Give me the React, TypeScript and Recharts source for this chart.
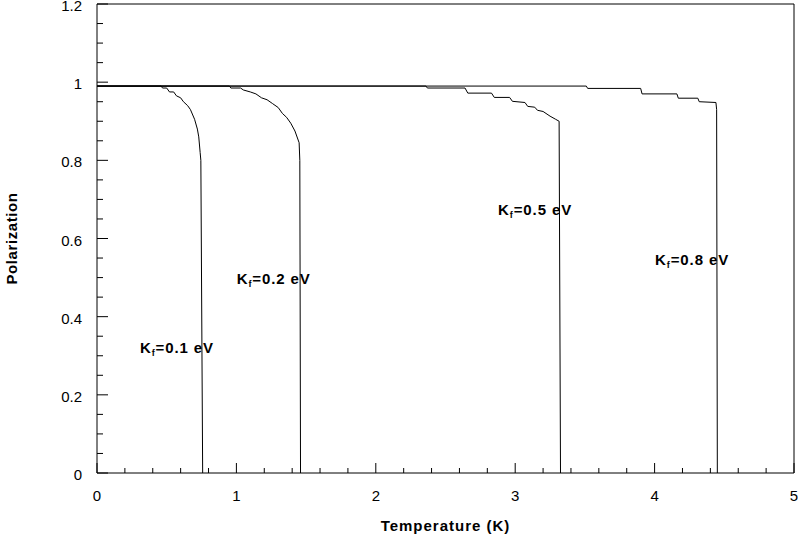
import React from 'react';
import {
  LineChart,
  Line,
  XAxis,
  YAxis,
  ReferenceLine,
  ReferenceDot,
} from 'recharts';

// Polarization vs temperature, one curve per Kf value
const kf01 = [
  { t: 0, p: 0.99 }, { t: 0.46, p: 0.99 }, { t: 0.47, p: 0.985 }, { t: 0.5, p: 0.985 },
  { t: 0.52, p: 0.975 }, { t: 0.55, p: 0.975 }, { t: 0.57, p: 0.965 }, { t: 0.6, p: 0.96 },
  { t: 0.62, p: 0.95 }, { t: 0.65, p: 0.94 }, { t: 0.67, p: 0.93 }, { t: 0.7, p: 0.905 },
  { t: 0.72, p: 0.88 }, { t: 0.73, p: 0.86 }, { t: 0.74, p: 0.82 }, { t: 0.745, p: 0.8 },
  { t: 0.758, p: 0 },
];

const kf02 = [
  { t: 0, p: 0.99 }, { t: 0.95, p: 0.99 }, { t: 0.96, p: 0.985 }, { t: 1.03, p: 0.985 },
  { t: 1.05, p: 0.98 }, { t: 1.1, p: 0.975 }, { t: 1.14, p: 0.97 }, { t: 1.18, p: 0.96 },
  { t: 1.22, p: 0.955 }, { t: 1.26, p: 0.945 }, { t: 1.3, p: 0.935 }, { t: 1.33, p: 0.92 },
  { t: 1.36, p: 0.91 }, { t: 1.39, p: 0.895 }, { t: 1.42, p: 0.875 }, { t: 1.45, p: 0.845 },
  { t: 1.455, p: 0.8 }, { t: 1.46, p: 0 },
];

const kf05 = [
  { t: 0, p: 0.99 }, { t: 2.36, p: 0.99 }, { t: 2.37, p: 0.985 }, { t: 2.64, p: 0.985 },
  { t: 2.66, p: 0.972 }, { t: 2.83, p: 0.972 }, { t: 2.85, p: 0.961 }, { t: 2.96, p: 0.961 },
  { t: 2.98, p: 0.951 }, { t: 3.07, p: 0.948 }, { t: 3.09, p: 0.938 }, { t: 3.14, p: 0.936 },
  { t: 3.16, p: 0.928 }, { t: 3.2, p: 0.925 }, { t: 3.25, p: 0.913 }, { t: 3.29, p: 0.905 },
  { t: 3.315, p: 0.9 }, { t: 3.325, p: 0 },
];

const kf08 = [
  { t: 0, p: 0.99 }, { t: 3.51, p: 0.99 }, { t: 3.52, p: 0.984 }, { t: 3.9, p: 0.984 },
  { t: 3.91, p: 0.97 }, { t: 4.16, p: 0.97 }, { t: 4.17, p: 0.959 }, { t: 4.31, p: 0.959 },
  { t: 4.32, p: 0.95 }, { t: 4.44, p: 0.948 }, { t: 4.445, p: 0.93 }, { t: 4.45, p: 0 },
];

const curveLabels = [
  { value: '0.1', t: 0.308, p: 0.32 },
  { value: '0.2', t: 1.002, p: 0.497 },
  { value: '0.5', t: 2.877, p: 0.674 },
  { value: '0.8', t: 4.003, p: 0.546 },
];

const xTicks = [0, 0.2, 0.4, 0.6, 0.8, 1, 1.2, 1.4, 1.6, 1.8, 2, 2.2, 2.4, 2.6, 2.8, 3, 3.2, 3.4, 3.6, 3.8, 4, 4.2, 4.4, 4.6, 4.8, 5];
const xMajor = [0, 1, 2, 3, 4, 5];
const yTicks = [0, 0.05, 0.1, 0.15, 0.2, 0.25, 0.3, 0.35, 0.4, 0.45, 0.5, 0.55, 0.6, 0.65, 0.7, 0.75, 0.8, 0.85, 0.9, 0.95, 1, 1.05, 1.1, 1.15, 1.2];
const yMajor = [0, 0.2, 0.4, 0.6, 0.8, 1, 1.2];

const FONT = '"Liberation Sans", Arial, sans-serif';

const isMajor = (list: number[], v: number) => list.some(m => Math.abs(m - v) < 1e-6);

const XTick = (props: any) => {
  const { x, y, payload } = props;
  const major = isMajor(xMajor, payload.value);
  return (
    <g>
      <line x1={x} x2={x} y1={y} y2={y - (major ? 10 : 5)} stroke="#000" strokeWidth={1} />
      {major && (
        <text x={x} y={y + 28} textAnchor="middle" fontSize={15} fontFamily={FONT} fill="#000">
          {payload.value}
        </text>
      )}
    </g>
  );
};

const YTick = (props: any) => {
  const { x, y, payload } = props;
  const major = isMajor(yMajor, payload.value);
  return (
    <g>
      <line x1={x} x2={x + (major ? 11 : 6)} y1={y} y2={y} stroke="#000" strokeWidth={1} />
      {major && (
        <text x={x - 15} y={y + 7} textAnchor="end" fontSize={15} fontFamily={FONT} fill="#000">
          {payload.value}
        </text>
      )}
    </g>
  );
};

const KfLabel = (value: string) => (props: any) => {
  const { viewBox } = props;
  const cx = viewBox.x + (viewBox.width || 0) / 2;
  const cy = viewBox.y + (viewBox.height || 0) / 2;
  return (
    <text x={cx} y={cy + 5} fontSize={15} fontWeight="bold" fontFamily={FONT} fill="#000" letterSpacing={0.9}>
      K<tspan fontSize={9} dy={3}>f</tspan>
      <tspan dy={-3}>={value} eV</tspan>
    </text>
  );
};

export default function App() {
  const series = [kf01, kf02, kf05, kf08];
  return (
    <div style={{ position: 'absolute', left: 0, top: 0, background: '#fff' }}>
      <LineChart width={798} height={546} margin={{ top: 4, right: 4, bottom: 0, left: 0 }}>
        <XAxis
          type="number"
          dataKey="t"
          domain={[0, 5]}
          ticks={xTicks}
          interval={0}
          tickSize={0}
          tickMargin={0}
          tickLine={false}
          tick={<XTick />}
          height={73}
          stroke="#000"
          allowDuplicatedCategory={false}
          label={{
            value: 'Temperature (K)',
            position: 'insideBottom',
            offset: 15,
            style: { fontSize: 15, fontWeight: 'bold', fontFamily: FONT, fill: '#000', letterSpacing: 1 },
          }}
        />
        <YAxis
          type="number"
          domain={[0, 1.2]}
          ticks={yTicks}
          interval={0}
          tickSize={0}
          tickMargin={0}
          tickLine={false}
          tick={<YTick />}
          width={97}
          stroke="#000"
          label={{
            value: 'Polarization',
            angle: -90,
            position: 'insideLeft',
            offset: 12,
            style: { textAnchor: 'middle', fontSize: 15, fontWeight: 'bold', fontFamily: FONT, fill: '#000', letterSpacing: 0.6 },
          }}
        />
        <ReferenceLine y={1.2} stroke="#000" strokeWidth={1} />
        <ReferenceLine x={5} stroke="#000" strokeWidth={1} />
        {series.map((d, i) => (
          <Line
            key={i}
            data={d}
            dataKey="p"
            type="linear"
            stroke="#000"
            strokeWidth={1}
            dot={false}
            activeDot={false}
            isAnimationActive={false}
          />
        ))}
        {curveLabels.map(l => (
          <ReferenceDot
            key={l.value}
            x={l.t}
            y={l.p}
            r={0}
            fill="none"
            stroke="none"
            label={KfLabel(l.value)}
          />
        ))}
      </LineChart>
    </div>
  );
}
